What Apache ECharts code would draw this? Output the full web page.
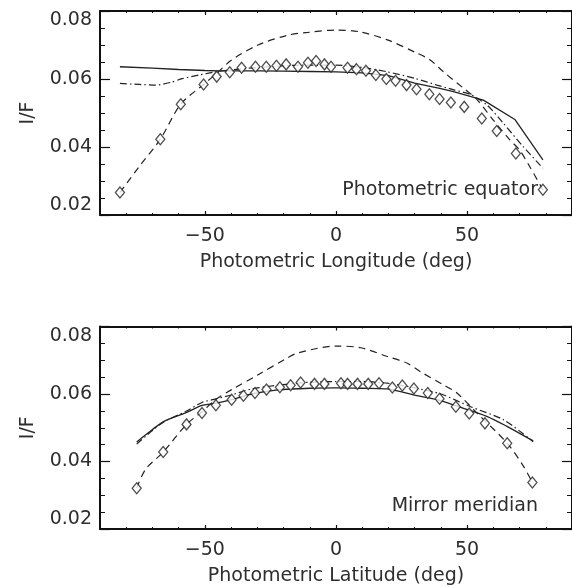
<!DOCTYPE html>
<html>
<head>
<meta charset="utf-8">
<script src="https://cdn.jsdelivr.net/npm/echarts@6/dist/echarts.min.js"></script>
<style>html,body{margin:0;padding:0;background:#fff}#c{width:572px;height:587px}</style>
</head>
<body>
<div id="c"></div>
<script>
// ---- tick labels ----
var xMajorTicks = [-50, 0, 50];
var yTicks = [0.02, 0.04, 0.06, 0.08];

// ---- Top panel: Photometric equator ----
var eqDiamondLon = [-82.4, -67.0, -59.2, -50.5, -45.5, -40.5, -36.0, -30.7, -26.6, -22.7, -19.0, -14.5, -10.7, -7.6, -4.4, -1.9, 4.4, 7.8, 11.4, 15.2, 19.2, 22.7, 26.9, 30.7, 35.6, 39.5, 43.8, 48.9, 55.6, 61.3, 68.6, 78.9];
var eqDiamondIF  = [0.0266, 0.0423, 0.0526, 0.0584, 0.0607, 0.0620, 0.0633, 0.0636, 0.0636, 0.0639, 0.0643, 0.0636, 0.0648, 0.0653, 0.0643, 0.0636, 0.0633, 0.0629, 0.0624, 0.0612, 0.0600, 0.0595, 0.0582, 0.0570, 0.0555, 0.0541, 0.0531, 0.0518, 0.0484, 0.0447, 0.0381, 0.0274];

var eqSolidLon = [-82.4, -70, -60, -50, -45, -40, -30, -20, -10, 0, 10, 20, 30, 40, 44.8, 56.2, 68.2, 78.9];
var eqSolidIF  = [0.0636, 0.0632, 0.0628, 0.0625, 0.0624, 0.0624, 0.0624, 0.0623, 0.0622, 0.0621, 0.0618, 0.0610, 0.0588, 0.0572, 0.0563, 0.0538, 0.0481, 0.0362];

var eqDashDotLon = [-82.4, -75, -68.8, -63, -58.7, -52, -46, -40, -30, -20, -10, 0, 10, 19.6, 30, 38.5, 45, 51.1, 57.5, 63.8, 71.4, 78.9];
var eqDashDotIF  = [0.0587, 0.0584, 0.0582, 0.0590, 0.0601, 0.0612, 0.0621, 0.0627, 0.0634, 0.0639, 0.0641, 0.0641, 0.0634, 0.0621, 0.0602, 0.0582, 0.0568, 0.0555, 0.0524, 0.0470, 0.0401, 0.0338];

var eqDashLon = [-82.4, -75.1, -67.0, -59.2, -50.5, -45, -39.8, -29.7, -18.3, -10.7, 0, 8.9, 19.6, 30.9, 35.9, 41, 48.6, 53.7, 60, 66.3, 70, 73.9, 78.9];
var eqDashIF  = [0.0266, 0.0342, 0.0423, 0.0526, 0.0584, 0.0620, 0.0656, 0.0700, 0.0729, 0.0737, 0.0744, 0.0739, 0.0715, 0.0676, 0.0656, 0.0621, 0.0573, 0.0540, 0.0479, 0.0421, 0.0391, 0.0342, 0.0274];

// ---- Bottom panel: Mirror meridian ----
var mmDiamondLat = [-76.0, -65.9, -57.0, -51.1, -45.8, -39.8, -35.3, -30.9, -26.5, -21.4, -17.3, -13.5, -8.2, -4.4, 1.9, 4.4, 8.2, 12.3, 16.4, 21.5, 25.3, 29.7, 35.0, 39.5, 45.7, 50.8, 56.8, 65.3, 74.9];
var mmDiamondIF  = [0.0321, 0.0428, 0.0510, 0.0544, 0.0567, 0.0583, 0.0595, 0.0603, 0.0613, 0.0620, 0.0626, 0.0634, 0.0630, 0.0630, 0.0632, 0.0630, 0.0630, 0.0630, 0.0632, 0.0619, 0.0625, 0.0616, 0.0603, 0.0586, 0.0562, 0.0542, 0.0513, 0.0454, 0.0338];

var mmSolidLat = [-76, -70, -65.6, -57.4, -51.1, -46, -40, -32.2, -22.1, -10, 0, 10, 19.6, 30.9, 38.5, 46.1, 57.5, 65, 75.2];
var mmSolidIF  = [0.0458, 0.0495, 0.0519, 0.0544, 0.0566, 0.0572, 0.0583, 0.0600, 0.0612, 0.0617, 0.0618, 0.0617, 0.0615, 0.0595, 0.0583, 0.0564, 0.0534, 0.0505, 0.0461];

var mmDashDotLat = [-76, -70, -65.6, -57.4, -51.1, -46, -40, -32.2, -20, -10, 0, 10, 19.6, 30, 40, 51.1, 63.8, 73.9, 75.2];
var mmDashDotIF  = [0.0452, 0.0492, 0.0518, 0.0548, 0.0575, 0.0585, 0.0597, 0.0615, 0.0628, 0.0635, 0.0637, 0.0637, 0.0632, 0.0618, 0.0600, 0.0563, 0.0524, 0.0467, 0.0458];

var mmDashLat = [-76, -72.6, -65.9, -57, -51, -46, -39.8, -29.7, -18.3, -14.5, 0, 9.5, 19.6, 27.2, 32.2, 41, 46.1, 53.7, 65.3, 71.4, 74.9];
var mmDashIF  = [0.0321, 0.0377, 0.0428, 0.0510, 0.0548, 0.0583, 0.0613, 0.0657, 0.0708, 0.0722, 0.0742, 0.0737, 0.0711, 0.0691, 0.0666, 0.0627, 0.0603, 0.0544, 0.0454, 0.0387, 0.0338];

var panelTitles = ['Photometric equator', 'Mirror meridian'];
var xNames = ['Photometric Longitude (deg)', 'Photometric Latitude (deg)'];
var yName = 'I/F';

function zip(a, b) { return a.map(function (v, i) { return [v, b[i]]; }); }

var FONT = 'DejaVu Sans';
var TXT = '#2e2e2e';
var grids = [
  { left: 100, top: 11, width: 476, height: 204 },
  { left: 100, top: 326.5, width: 476, height: 204 }
];

var xAxes = [], yAxes = [], series = [];
[0, 1].forEach(function (g) {
  var base = xAxes.length;
  xAxes.push({ type: 'value', gridIndex: g, position: 'bottom', min: -90, max: 90, interval: 10,
    axisLine: { show: true, onZero: false, lineStyle: { color: '#111', width: 2 } },
    axisTick: { show: true, inside: true, length: 2, lineStyle: { color: '#111', width: 1 } },
    axisLabel: { show: false }, splitLine: { show: false } });
  xAxes.push({ type: 'value', gridIndex: g, position: 'bottom', min: -90, max: 90,
    axisLine: { show: false, onZero: false },
    axisTick: { show: true, inside: true, length: 4, customValues: xMajorTicks, lineStyle: { color: '#111', width: 1.2 } },
    axisLabel: { show: true, customValues: xMajorTicks, margin: 12, fontFamily: FONT, fontSize: 19, color: TXT,
      formatter: function (v) { return v < 0 ? '\u2212' + Math.abs(v) : String(v); } },
    name: xNames[g], nameLocation: 'middle', nameGap: 38,
    nameTextStyle: { fontFamily: FONT, fontSize: 19, color: TXT },
    splitLine: { show: false } });
  xAxes.push({ type: 'value', gridIndex: g, position: 'top', min: -90, max: 90, interval: 10,
    axisLine: { show: true, onZero: false, lineStyle: { color: '#111', width: 2 } },
    axisTick: { show: true, inside: true, length: 2, lineStyle: { color: '#111', width: 1 } },
    axisLabel: { show: false }, splitLine: { show: false } });
  xAxes.push({ type: 'value', gridIndex: g, position: 'top', min: -90, max: 90,
    axisLine: { show: false, onZero: false },
    axisTick: { show: true, inside: true, length: 4, customValues: xMajorTicks, lineStyle: { color: '#111', width: 1.2 } },
    axisLabel: { show: false }, splitLine: { show: false } });

  var yb = yAxes.length;
  yAxes.push({ type: 'value', gridIndex: g, position: 'left', min: yTicks[0], max: yTicks[yTicks.length - 1], interval: 0.02,
    axisLine: { show: true, onZero: false, lineStyle: { color: '#111', width: 2 } },
    axisTick: { show: true, inside: true, length: 10, lineStyle: { color: '#111', width: 1.2 } },
    minorTick: { show: true, splitNumber: 4, length: 5, lineStyle: { color: '#111', width: 1 } },
    axisLabel: { show: true, margin: 8, fontFamily: FONT, fontSize: 19, color: TXT,
      verticalAlignMinLabel: 'bottom', verticalAlignMaxLabel: 'top',
      formatter: function (v) { return v.toFixed(2); } },
    name: yName, nameLocation: 'middle', nameGap: 62, nameRotate: 90,
    nameTextStyle: { fontFamily: FONT, fontSize: 19, color: TXT },
    splitLine: { show: false }, minorSplitLine: { show: false } });
  yAxes.push({ type: 'value', gridIndex: g, position: 'right', min: yTicks[0], max: yTicks[yTicks.length - 1], interval: 0.02,
    axisLine: { show: true, onZero: false, lineStyle: { color: '#111', width: 2 } },
    axisTick: { show: true, inside: true, length: 10, lineStyle: { color: '#111', width: 1.2 } },
    minorTick: { show: true, splitNumber: 4, length: 5, lineStyle: { color: '#111', width: 1 } },
    axisLabel: { show: false }, splitLine: { show: false }, minorSplitLine: { show: false } });

  var sets = g === 0
    ? { solid: zip(eqSolidLon, eqSolidIF), dd: zip(eqDashDotLon, eqDashDotIF), dash: zip(eqDashLon, eqDashIF), dia: zip(eqDiamondLon, eqDiamondIF) }
    : { solid: zip(mmSolidLat, mmSolidIF), dd: zip(mmDashDotLat, mmDashDotIF), dash: zip(mmDashLat, mmDashIF), dia: zip(mmDiamondLat, mmDiamondIF) };

  var common = { type: 'line', xAxisIndex: base, yAxisIndex: yb, showSymbol: false, symbol: 'none', silent: true, animation: false };
  series.push(Object.assign({}, common, { data: sets.solid, smooth: g === 0 ? false : 0.25, lineStyle: { color: '#222', width: 1.3, type: 'solid' } }));
  series.push(Object.assign({}, common, { data: sets.dd, smooth: 0.25, lineStyle: { color: '#222', width: 1.2, type: [7, 3, 1.5, 3] } }));
  series.push(Object.assign({}, common, { data: sets.dash, smooth: 0.3, lineStyle: { color: '#222', width: 1.2, type: [7, 5] } }));
  series.push({ type: 'scatter', xAxisIndex: base, yAxisIndex: yb, data: sets.dia, symbol: 'diamond', symbolSize: [9, 11],
    itemStyle: { color: '#fff', borderColor: '#222', borderWidth: 1.3 }, silent: true, animation: false, z: 5 });
});

var chart = echarts.init(document.getElementById('c'), null, { renderer: 'canvas' });
chart.setOption({
  backgroundColor: '#fff',
  animation: false,
  grid: grids,
  xAxis: xAxes,
  yAxis: yAxes,
  series: series,
  graphic: [
    { type: 'text', right: 34, top: 181, style: { text: panelTitles[0], fontFamily: FONT, fontSize: 19, fill: TXT } },
    { type: 'text', right: 34, top: 497, style: { text: panelTitles[1], fontFamily: FONT, fontSize: 19, fill: TXT } }
  ]
});
</script>
</body>
</html>
